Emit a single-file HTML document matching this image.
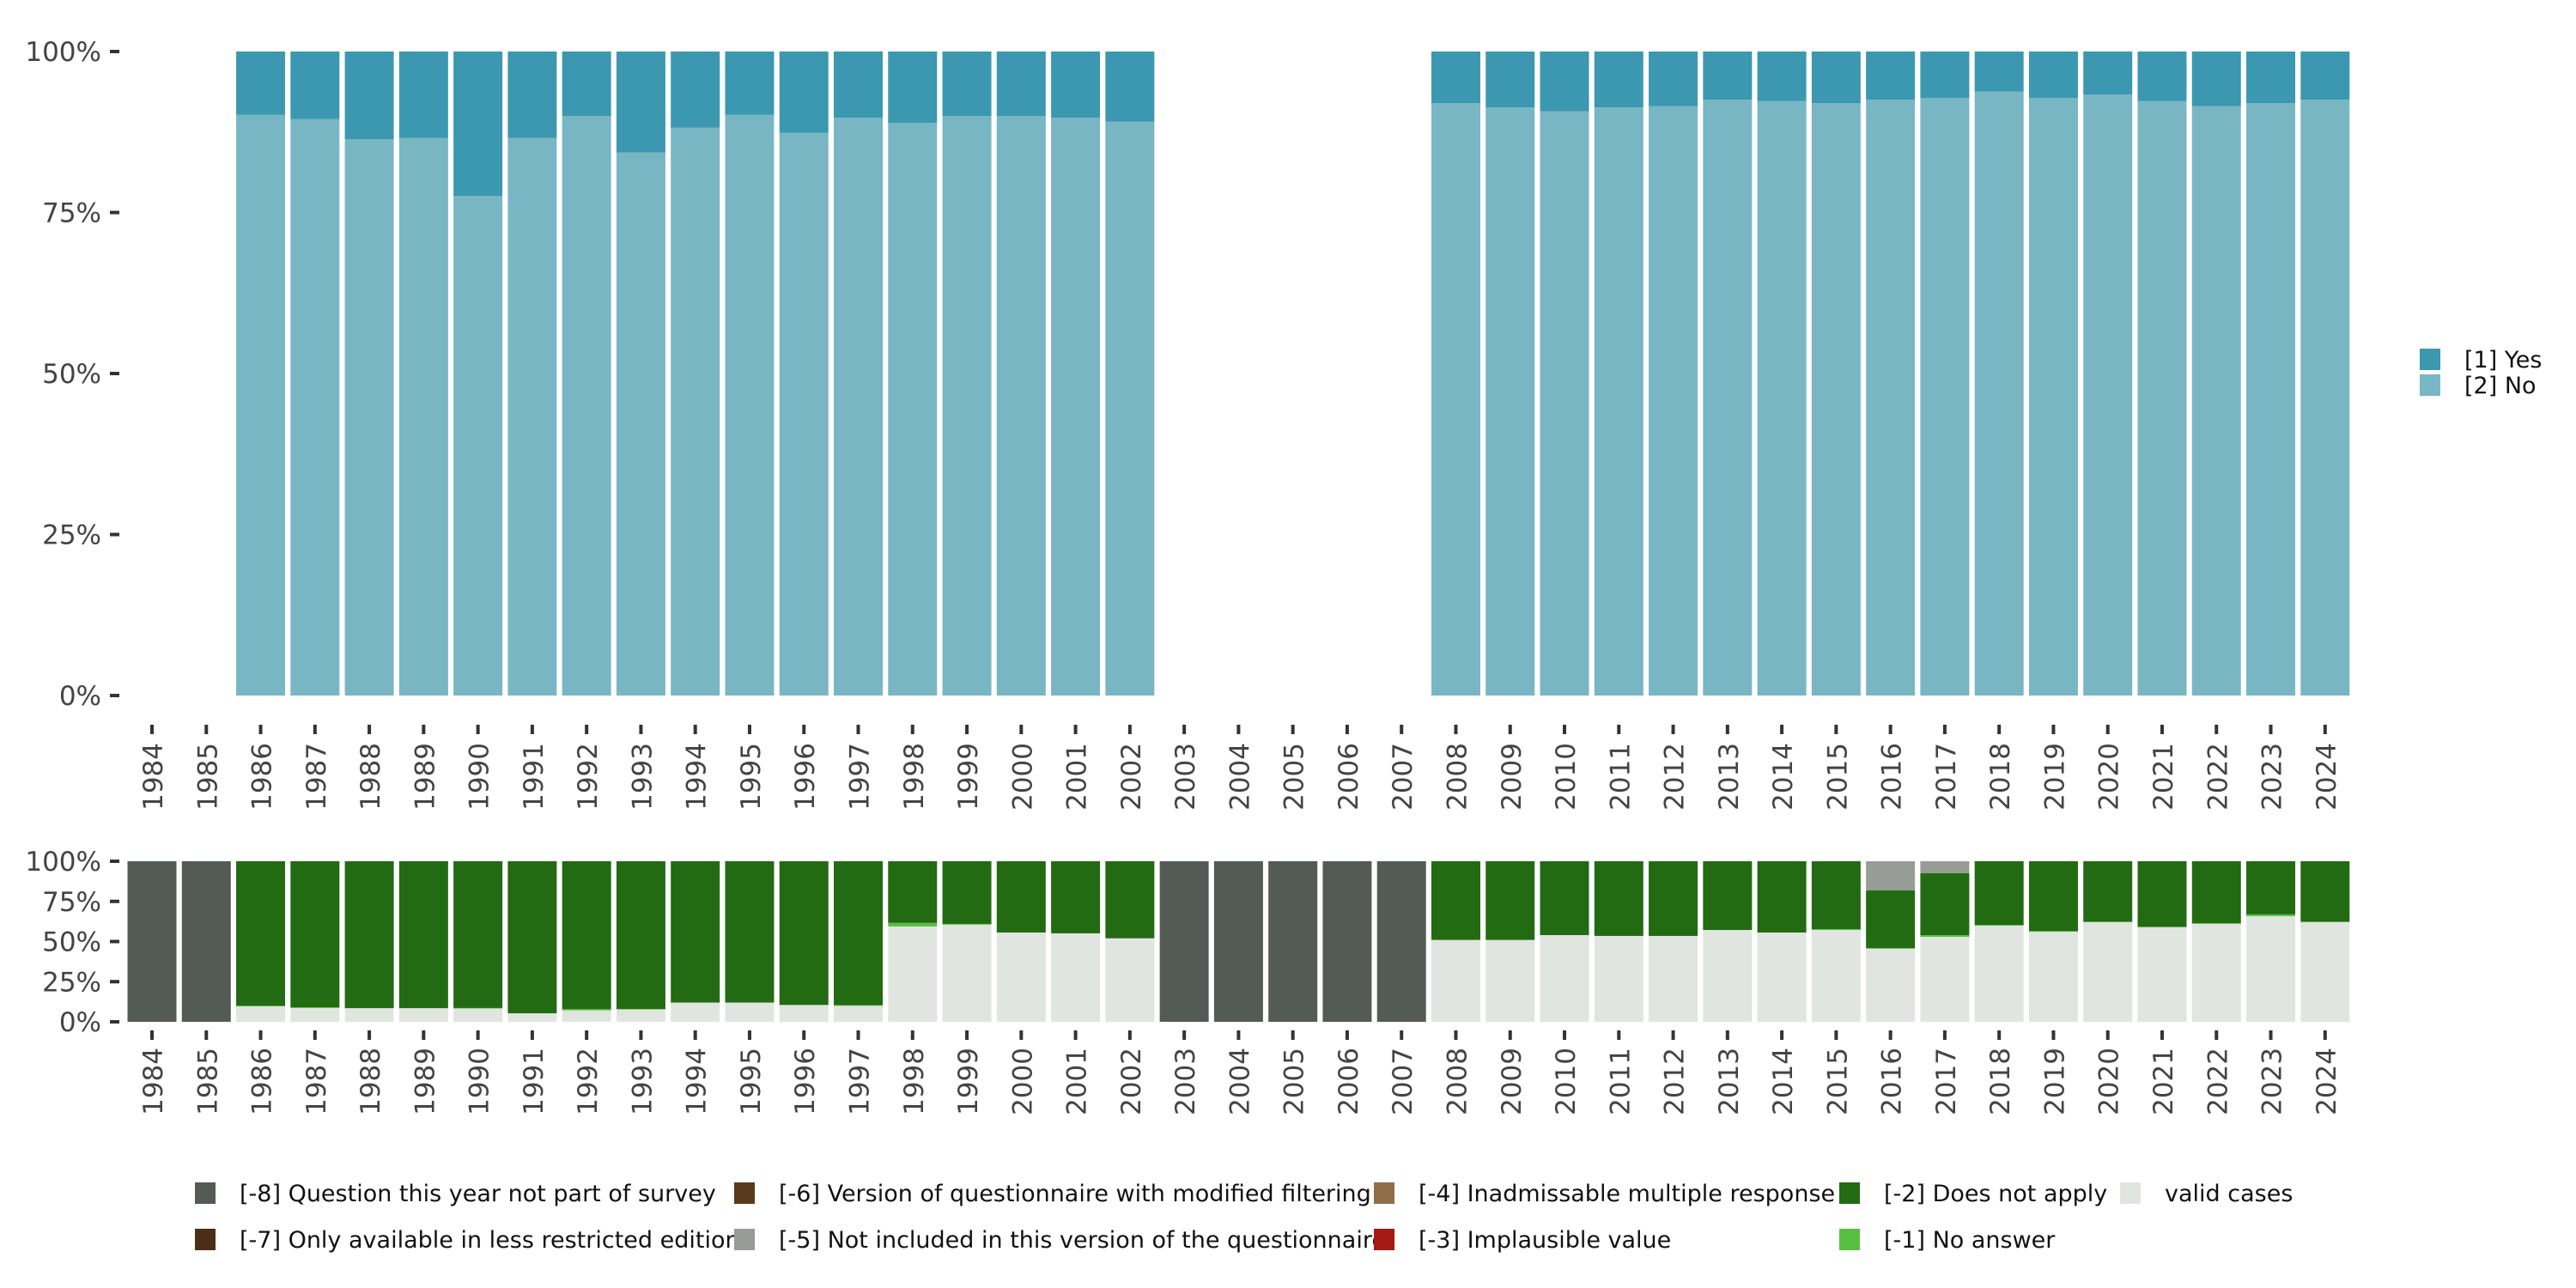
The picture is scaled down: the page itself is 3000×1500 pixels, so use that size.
<!DOCTYPE html>
<html><head><meta charset="utf-8"><style>
html,body{margin:0;padding:0;background:#fff;width:3000px;height:1500px;overflow:hidden}
svg{display:block;font-family:"DejaVu Sans","Liberation Sans",sans-serif}
</style></head><body>
<svg id="chart" width="3000" height="1500" xmlns="http://www.w3.org/2000/svg"></svg>
<script>
const years = [];
for (let y = 1984; y <= 2024; y++) years.push(y);
// top chart: share of "No" (rest is "Yes"); null = no data
const noShare = {1986:90.2,1987:89.5,1988:86.4,1989:86.6,1990:77.6,1991:86.6,1992:90,1993:84.3,1994:88.2,1995:90.2,1996:87.4,1997:89.7,1998:88.9,1999:90,2000:90,2001:89.7,2002:89.1,
2008:92,2009:91.3,2010:90.7,2011:91.3,2012:91.5,2013:92.5,2014:92.3,2015:92,2016:92.5,2017:92.8,2018:93.8,2019:92.8,2020:93.3,2021:92.3,2022:91.5,2023:92,2024:92.5};
// bottom chart
const missingYears = [1984,1985,2003,2004,2005,2006,2007];
const validShare = {1986:9.6,1987:8.6,1988:8.5,1989:8.5,1990:8.3,1991:5.3,1992:7.1,1993:7.7,1994:12,1995:12,1996:10.5,1997:10,1998:59.4,1999:60.5,2000:55.6,2001:55.1,2002:52,
2008:51,2009:51,2010:54,2011:53.5,2012:53.5,2013:57.2,2014:55.6,2015:57.2,2016:45.5,2017:52.9,2018:59.9,2019:56.1,2020:62,2021:58.8,2022:61,2023:65.8,2024:62};
const noAnswerShare = {1986:0.4,1987:0.5,1990:0.3,1992:0.8,1993:0.3,1997:0.3,1998:2.2,1999:0.5,2015:0.5,2016:0.5,2017:1.1,2018:0.4,2019:0.4,2020:0.4,2021:0.4,2022:0.4,2023:1.1,2024:0.4};
const notIncludedShare = {2016:18.2,2017:7.5};
const yTicks = [0,25,50,75,100];
const yTickLabels = ["0%","25%","50%","75%","100%"];

const C = {yes:"#3b98b0",no:"#79b6c4",q:"#545b55",dna:"#226b12",valid:"#e1e5e0",na:"#57c040",ni:"#989c96",v6:"#5a3a1c",v7:"#4a2e18",v4:"#8f6e4a",v3:"#a51a14"};
const svg = document.getElementById('chart');
const NS = "http://www.w3.org/2000/svg";
function el(tag, attrs, parent) {
  const e = document.createElementNS(NS, tag);
  for (const k in attrs) e.setAttribute(k, attrs[k]);
  (parent || svg).appendChild(e);
  return e;
}
const BW = 57;
function xC(year) { return 177 + (year - 1984) * 63.27; }
function yTop(v) { return 810 - v / 100 * 750; }
function yBot(v) { return 1190 - v / 100 * 187; }

function axes(yf, tickY, labelY, prefix) {
  yTicks.forEach((t, i) => {
    const y = yf(t);
    const tk = el('rect', {x:128, y:y-2, width:11, height:4, fill:'#333'});
    
    
    const tx = el('text', {x:118, y:y+11, 'text-anchor':'end', 'font-size':31, fill:'#444'});
    tx.textContent = yTickLabels[i];
    
    
  });
  years.forEach(yr => {
    const x = xC(yr);
    const tk = el('rect', {x:x-2, y:tickY, width:4, height:11, fill:'#333'});
    
    
    const tx = el('text', {x:0, y:0, 'text-anchor':'end', 'font-size':31, fill:'#444', transform:`translate(${x+12},${labelY}) rotate(-90)`});
    tx.textContent = yr;
    
    
  });
}

function seg(yf, x, v0, v1, color, name) {
  const r = el('rect', {x:x-BW/2, y:yf(v1), width:BW, height:yf(v0)-yf(v1), fill:color});
  
  
}

// top chart
years.forEach(yr => {
  const n = noShare[yr];
  if (n == null) return;
  const x = xC(yr);
  seg(yTop, x, 0, n, C.no, 'bar-no-' + yr);
  seg(yTop, x, n, 100, C.yes, 'bar-yes-' + yr);
});
axes(yTop, 844, 865, 'top');

// bottom chart
years.forEach(yr => {
  const x = xC(yr);
  if (missingYears.includes(yr)) { seg(yBot, x, 0, 100, C.q, 'bar-not-in-survey-' + yr); return; }
  const v = validShare[yr] || 0, na = noAnswerShare[yr] || 0, ni = notIncludedShare[yr] || 0;
  seg(yBot, x, 0, v, C.valid, 'bar-valid-' + yr);
  if (na) seg(yBot, x, v, v + na, C.na, 'bar-no-answer-' + yr);
  seg(yBot, x, v + na, 100 - ni, C.dna, 'bar-does-not-apply-' + yr);
  if (ni) seg(yBot, x, 100 - ni, 100, C.ni, 'bar-not-included-' + yr);
});
axes(yBot, 1200, 1220, 'bottom');

// top legend
[[C.yes,'[1] Yes',406],[C.no,'[2] No',436]].forEach(([c,t,y]) => {
  const r = el('rect', {x:2818, y:y, width:24, height:25, fill:c});
  
  
  const tx = el('text', {x:2870, y:y+22, 'font-size':27, fill:'#111'});
  tx.textContent = t;
  
  
});

// bottom legend
const legItems = [
  [227,1377,C.q,'[-8] Question this year not part of survey'],
  [227,1431,C.v7,'[-7] Only available in less restricted edition'],
  [855,1377,C.v6,'[-6] Version of questionnaire with modified filtering'],
  [855,1431,C.ni,'[-5] Not included in this version of the questionnaire'],
  [1600,1377,C.v4,'[-4] Inadmissable multiple response'],
  [1600,1431,C.v3,'[-3] Implausible value'],
  [2142,1377,C.dna,'[-2] Does not apply'],
  [2142,1431,C.na,'[-1] No answer'],
  [2469,1377,C.valid,'valid cases']
];
legItems.forEach(([x,y,c,t]) => {
  const r = el('rect', {x:x, y:y, width:24, height:25, fill:c});
  
  
  const tx = el('text', {x:x+52, y:y+22, 'font-size':27, fill:'#111'});
  tx.textContent = t;
  
  
});
</script>
</body></html>
